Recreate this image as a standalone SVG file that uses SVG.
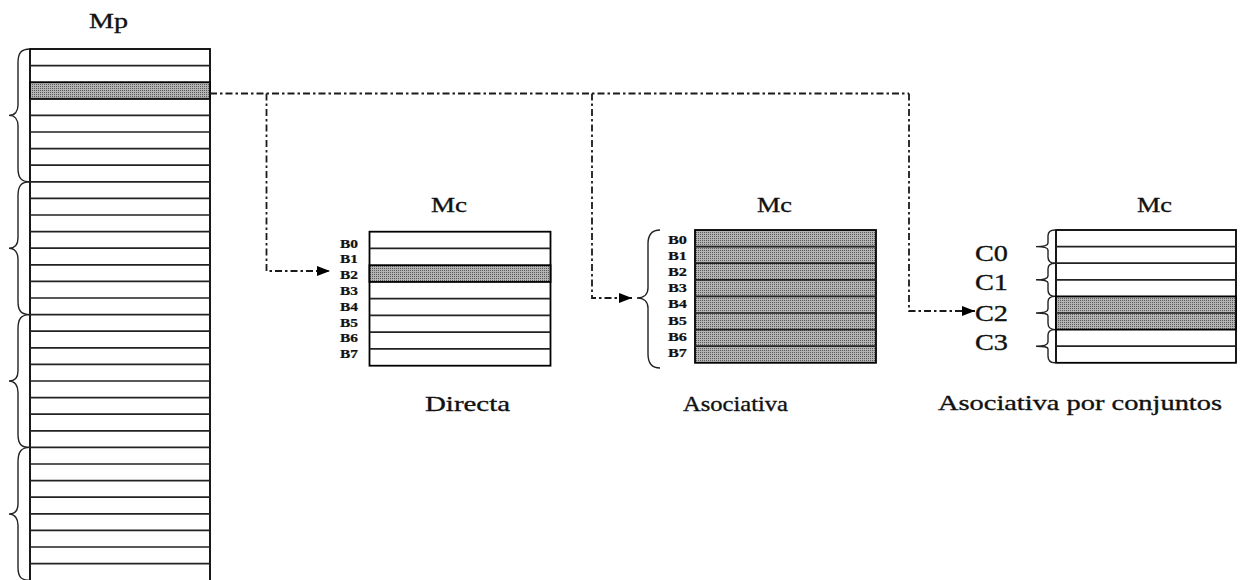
<svg xmlns="http://www.w3.org/2000/svg" width="1243" height="580" viewBox="0 0 1243 580">
<style>
.box{fill:#fff;stroke:#000;stroke-width:1.8}
.ln{stroke:#222;stroke-width:1.7}
.br{fill:none;stroke:#222;stroke-width:1.4}
.con{fill:none;stroke:#1a1a1a;stroke-width:1.8;stroke-dasharray:7 3 2.5 3}
.t{font-family:"Liberation Serif","Times New Roman",serif;fill:#111;stroke:#111;stroke-width:0.35}
.big{font-size:22px}
.cl{font-size:23px}
.bl{font-size:12px;font-weight:bold;stroke-width:0.2}
</style>
<defs>
<pattern id="dots" width="2" height="2" patternUnits="userSpaceOnUse">
<rect width="2" height="2" fill="#b4b4b4"/>
<rect width="1" height="1" fill="#5a5a5a"/>
</pattern>
<marker id="ah" markerWidth="13" markerHeight="10" refX="13" refY="5" orient="auto" markerUnits="userSpaceOnUse">
<path d="M0,0 L13,5 L0,10 Z" fill="#000"/>
</marker>
</defs>

<g id="mp">
<text class="t big" x="89" y="28" textLength="39" lengthAdjust="spacingAndGlyphs">Mp</text>
<rect class="box" x="30" y="49" width="180" height="535"/>
<rect x="30" y="82.2" width="180" height="16.6" fill="url(#dots)" stroke="#000" stroke-width="1.8"/>
<path class="ln" d="M30,65.6H210M30,99H210M30,115.4H210M30,132H210M30,148.6H210M30,165.2H210M30,181.8H210M30,198.4H210M30,215H210M30,231.6H210M30,248.2H210M30,264.8H210M30,281.4H210M30,298H210M30,314.6H210M30,331.2H210M30,347.8H210M30,364.4H210M30,381H210M30,397.6H210M30,414.2H210M30,430.8H210M30,447.4H210M30,464H210M30,480.6H210M30,497.2H210M30,513.8H210M30,530.4H210M30,547H210M30,563.6H210"/>
<path class="br" d="M30,49 C21,49 18,53 18,63 L18,105 C18,111 15,115.4 9,115.4 C15,115.4 18,120 18,126 L18,168 C18,178 21,181.8 30,181.8"/>
<path class="br" d="M30,181.8 C21,181.8 18,186 18,196 L18,238 C18,244 15,248.2 9,248.2 C15,248.2 18,253 18,259 L18,301 C18,311 21,314.6 30,314.6"/>
<path class="br" d="M30,314.6 C21,314.6 18,319 18,329 L18,371 C18,377 15,381 9,381 C15,381 18,386 18,392 L18,434 C18,444 21,447.4 30,447.4"/>
<path class="br" d="M30,447.4 C21,447.4 18,452 18,462 L18,504 C18,510 15,514 9,514 C15,514 18,519 18,525 L18,567 C18,577 21,580.2 30,580.2"/>
</g>

<g id="directa">
<text class="t big" x="431" y="212" textLength="36" lengthAdjust="spacingAndGlyphs">Mc</text>
<rect class="box" x="369.5" y="231.7" width="181" height="134"/>
<rect x="369.5" y="265.2" width="181" height="16.75" fill="url(#dots)" stroke="#000" stroke-width="1.8"/>
<path class="ln" d="M369.5,248.45H550.5M369.5,298.7H550.5M369.5,315.45H550.5M369.5,332.2H550.5M369.5,348.95H550.5"/>
<text class="t bl" x="340" y="247.5" textLength="18" lengthAdjust="spacingAndGlyphs">B0</text>
<text class="t bl" x="340" y="263.3" textLength="18" lengthAdjust="spacingAndGlyphs">B1</text>
<text class="t bl" x="340" y="279.1" textLength="18" lengthAdjust="spacingAndGlyphs">B2</text>
<text class="t bl" x="340" y="294.9" textLength="18" lengthAdjust="spacingAndGlyphs">B3</text>
<text class="t bl" x="340" y="310.7" textLength="18" lengthAdjust="spacingAndGlyphs">B4</text>
<text class="t bl" x="340" y="326.5" textLength="18" lengthAdjust="spacingAndGlyphs">B5</text>
<text class="t bl" x="340" y="342.3" textLength="18" lengthAdjust="spacingAndGlyphs">B6</text>
<text class="t bl" x="340" y="358.1" textLength="18" lengthAdjust="spacingAndGlyphs">B7</text>
<text class="t big" x="425" y="411" textLength="85" lengthAdjust="spacingAndGlyphs">Directa</text>
</g>

<g id="asociativa">
<text class="t big" x="757" y="212" textLength="35" lengthAdjust="spacingAndGlyphs">Mc</text>
<rect x="695" y="230" width="181" height="132.8" fill="url(#dots)" stroke="#000" stroke-width="1.8"/>
<path class="ln" d="M695,246.6H876M695,263.2H876M695,279.8H876M695,296.4H876M695,313H876M695,329.6H876M695,346.2H876"/>
<text class="t bl" x="668" y="244" textLength="19" lengthAdjust="spacingAndGlyphs">B0</text>
<text class="t bl" x="668" y="260.1" textLength="19" lengthAdjust="spacingAndGlyphs">B1</text>
<text class="t bl" x="668" y="276.2" textLength="19" lengthAdjust="spacingAndGlyphs">B2</text>
<text class="t bl" x="668" y="292.3" textLength="19" lengthAdjust="spacingAndGlyphs">B3</text>
<text class="t bl" x="668" y="308.4" textLength="19" lengthAdjust="spacingAndGlyphs">B4</text>
<text class="t bl" x="668" y="324.5" textLength="19" lengthAdjust="spacingAndGlyphs">B5</text>
<text class="t bl" x="668" y="340.6" textLength="19" lengthAdjust="spacingAndGlyphs">B6</text>
<text class="t bl" x="668" y="356.7" textLength="19" lengthAdjust="spacingAndGlyphs">B7</text>
<path class="br" d="M660,230 C652,230 648,234 648,244 L648,288 C648,294 644,298 637,298 C644,298 648,302 648,308 L648,354 C648,364 652,368 660,368"/>
<text class="t big" x="683" y="411" textLength="105" lengthAdjust="spacingAndGlyphs">Asociativa</text>
</g>

<g id="conjuntos">
<text class="t big" x="1137" y="212" textLength="35" lengthAdjust="spacingAndGlyphs">Mc</text>
<rect class="box" x="1056" y="230" width="180" height="132.8"/>
<rect x="1056" y="296.4" width="180" height="33.2" fill="url(#dots)" stroke="#000" stroke-width="1.8"/>
<path class="ln" d="M1056,246.6H1236M1056,263.2H1236M1056,279.8H1236M1056,313H1236M1056,346.2H1236"/>
<path class="br" d="M1055,230 C1050,230 1048,232 1048,236 L1048,243 C1048,245 1046,246.6 1036,246.6 C1046,246.6 1048,248 1048,250 L1048,257 C1048,261 1050,263.2 1055,263.2"/>
<path class="br" d="M1055,263.2 C1050,263.2 1048,265 1048,269 L1048,276 C1048,278 1046,279.8 1036,279.8 C1046,279.8 1048,281 1048,283 L1048,290 C1048,294 1050,296.4 1055,296.4"/>
<path class="br" d="M1055,296.4 C1050,296.4 1048,298 1048,302 L1048,309 C1048,311 1046,313 1036,313 C1046,313 1048,314 1048,316 L1048,323 C1048,327 1050,329.6 1055,329.6"/>
<path class="br" d="M1055,329.6 C1050,329.6 1048,331 1048,335 L1048,342 C1048,344 1046,346.2 1036,346.2 C1046,346.2 1048,347 1048,349 L1048,356 C1048,360 1050,362.8 1055,362.8"/>
<text class="t cl" x="975" y="260.5" textLength="33" lengthAdjust="spacingAndGlyphs">C0</text>
<text class="t cl" x="975" y="290" textLength="33" lengthAdjust="spacingAndGlyphs">C1</text>
<text class="t cl" x="975" y="320.5" textLength="33" lengthAdjust="spacingAndGlyphs">C2</text>
<text class="t cl" x="975" y="349.5" textLength="33" lengthAdjust="spacingAndGlyphs">C3</text>
<text class="t big" x="938" y="410" textLength="284" lengthAdjust="spacingAndGlyphs">Asociativa por conjuntos</text>
</g>

<g id="connectors">
<path class="con" d="M210,93.5 H909"/>
<path class="con" d="M266.5,93.5 V271 H330" marker-end="url(#ah)"/>
<path class="con" d="M592,93.5 V298 H632" marker-end="url(#ah)"/>
<path class="con" d="M909,93.5 V311 H975" marker-end="url(#ah)"/>
</g>
</svg>
